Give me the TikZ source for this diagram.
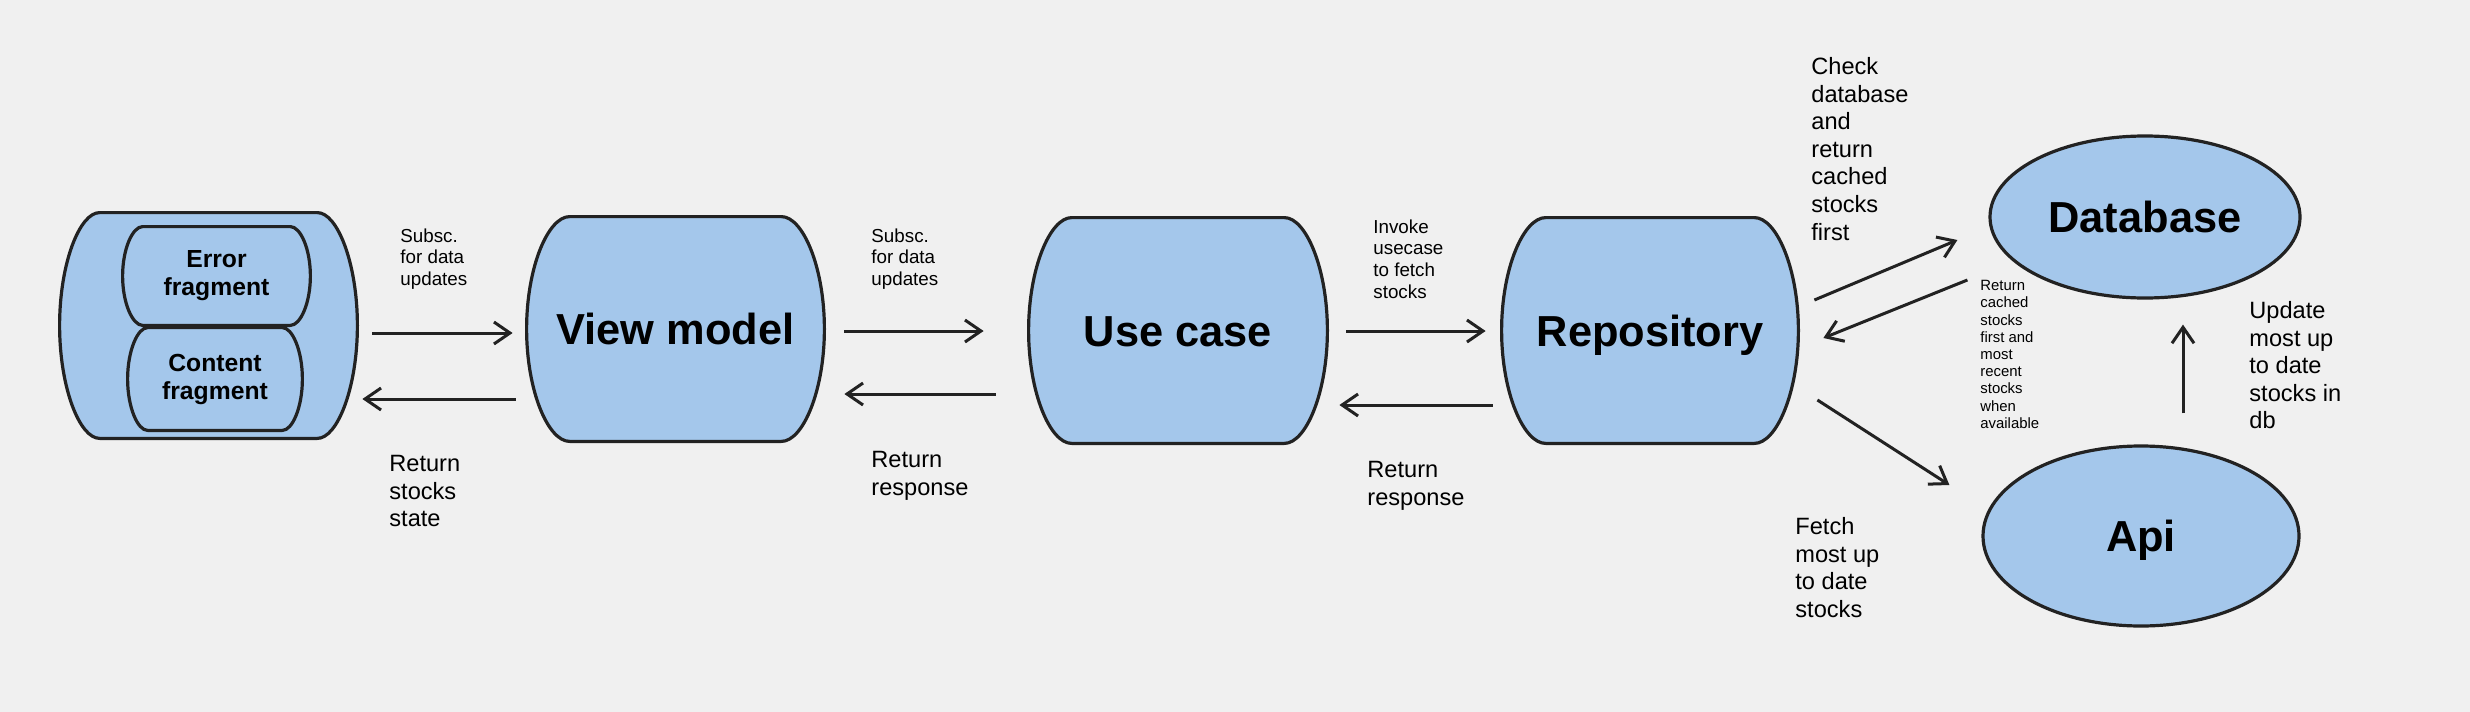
\documentclass[tikz,border=0pt]{standalone}
\usepackage{fontspec}
\setmainfont{Liberation Sans}
\usetikzlibrary{shapes.geometric,arrows.meta,calc,backgrounds}
\definecolor{bgc}{HTML}{F0F0F0}
\definecolor{boxfill}{HTML}{A4C7EB}
\definecolor{inkc}{HTML}{222222}
\newcommand\barrelpath[2]{%
  \path[barrelstyle] ($(#1.north west)+(#2,0)$) -- ($(#1.north east)+(-#2,0)$)
    .. controls ($(#1.north east)+(-0.5*#2,0)$) and ($(#1.east)!0.55!(#1.north east)$) .. (#1.east)
    .. controls ($(#1.east)!0.55!(#1.south east)$) and ($(#1.south east)+(-0.5*#2,0)$) .. ($(#1.south east)+(-#2,0)$)
    -- ($(#1.south west)+(#2,0)$)
    .. controls ($(#1.south west)+(0.5*#2,0)$) and ($(#1.west)!0.55!(#1.south west)$) .. (#1.west)
    .. controls ($(#1.west)!0.55!(#1.north west)$) and ($(#1.north west)+(0.5*#2,0)$) .. ($(#1.north west)+(#2,0)$)
    -- cycle;}
\begin{document}
\begin{tikzpicture}[x=0.5pt,y=0.5pt,
  bignode/.style={rectangle, inner sep=0pt, text height=15.5pt, text depth=0pt,
    font=\fontsize{21.7pt}{26pt}\selectfont\bfseries},
  fragnode/.style={rectangle, inner sep=0pt, align=center,
    font=\fontsize{12.35pt}{14pt}\selectfont\bfseries},
  ellnode/.style={ellipse, draw=inkc, fill=boxfill, line width=1.6pt, inner sep=0pt,
    text height=15.5pt, text depth=0pt, font=\fontsize{21.7pt}{26pt}\selectfont\bfseries},
  barrelstyle/.style={draw=inkc, fill=boxfill, line width=1.6pt, line join=round},
  arr/.style={draw=inkc, line width=1.5pt, -{Straight Barb[length=8pt,width=11pt]}},
  smalllbl/.style={anchor=north west, inner sep=0pt, align=left,
    font=\fontsize{9.4pt}{10.85pt}\selectfont},
  medlbl/.style={anchor=north west, inner sep=0pt, align=left,
    font=\fontsize{11.8pt}{13.8pt}\selectfont},
  tinylbl/.style={anchor=north west, inner sep=0pt, align=left,
    font=\fontsize{7.45pt}{8.6pt}\selectfont}]
\useasboundingbox (0,0) rectangle (2470,-712);

% boxes
\node[rectangle, inner sep=0pt, minimum width=148.5pt, minimum height=112.5pt] (outer) at (208.5,-325.5) {};
\node[fragnode, minimum width=93.5pt, minimum height=49pt] (err) at (216.5,-276) {Error\\fragment};
\node[fragnode, minimum width=87pt, minimum height=51pt] (cont) at (215,-379) {Content\\fragment};
\node[bignode, minimum width=148.5pt, minimum height=112pt] (vm) at (675.5,-329) {View model};
\node[bignode, minimum width=149pt, minimum height=112.5pt] (uc) at (1178,-330.5) {Use case};
\node[bignode, minimum width=148pt, minimum height=112.5pt] (repo) at (1650,-330.5) {Repository};
\node[ellnode, minimum width=155pt, minimum height=81pt] (db) at (2145,-217) {Database};
\node[ellnode, minimum width=158pt, minimum height=90pt] (api) at (2141,-536) {Api};

% labels
\node[smalllbl] (l1) at (400,-228) {Subsc.\\for data\\updates};
\node[medlbl] (l2) at (389,-455) {Return\\stocks\\state};
\node[smalllbl] (l3) at (871,-228) {Subsc.\\for data\\updates};
\node[medlbl] (l4) at (871,-451) {Return\\response};
\node[smalllbl] (l5) at (1373,-219) {Invoke\\usecase\\to fetch\\stocks};
\node[medlbl] (l6) at (1367,-461) {Return\\response};
\node[medlbl] (l7) at (1811,-57) {Check\\database\\and\\return\\cached\\stocks\\first};
\node[tinylbl] (l8) at (1980,-280) {Return\\cached\\stocks\\first and\\most\\recent\\stocks\\when\\available};
\node[medlbl] (l9) at (2249,-301) {Update\\most up\\to date\\stocks in\\db};
\node[medlbl] (l10) at (1795,-517) {Fetch\\most up\\to date\\stocks};

% connectors
\draw[arr] ($(outer.east)+(15,-7.5)$) -- ($(vm.west)+(-14,-4)$);
\draw[arr] ($(vm.west)+(-11,-70)$) -- ($(outer.east)+(5,-73.5)$);
\draw[arr] ($(vm.east)+(20,-2)$) -- ($(uc.west)+(-45,-0.5)$);
\draw[arr] ($(uc.west)+(-33,-63.5)$) -- ($(vm.east)+(20,-65)$);
\draw[arr] ($(uc.east)+(19,-0.5)$) -- ($(repo.west)+(-16,-0.5)$);
\draw[arr] ($(repo.west)+(-9,-74.5)$) -- ($(uc.east)+(12,-74.5)$);
\draw[arr] ($(repo.east)+(16,30.5)$) -- ($(db.west)+(-31,-23)$);
\draw[arr] ($(db.west)+(-21,-63)$) -- ($(repo.east)+(25,-7.5)$);
\draw[arr] ($(repo.east)+(19,-69.5)$) -- ($(api.west)+(-32,51)$);
\draw[arr] ($(api.north)+(42,31)$) -- ($(db.south)+(38,-25)$);

\begin{scope}[on background layer]
\fill[bgc] (0,0) rectangle (2470,-712);
\barrelpath{outer}{40}
\barrelpath{err}{20}
\barrelpath{cont}{20}
\barrelpath{vm}{43}
\barrelpath{uc}{43}
\barrelpath{repo}{44}
\end{scope}
\end{tikzpicture}
\end{document}
